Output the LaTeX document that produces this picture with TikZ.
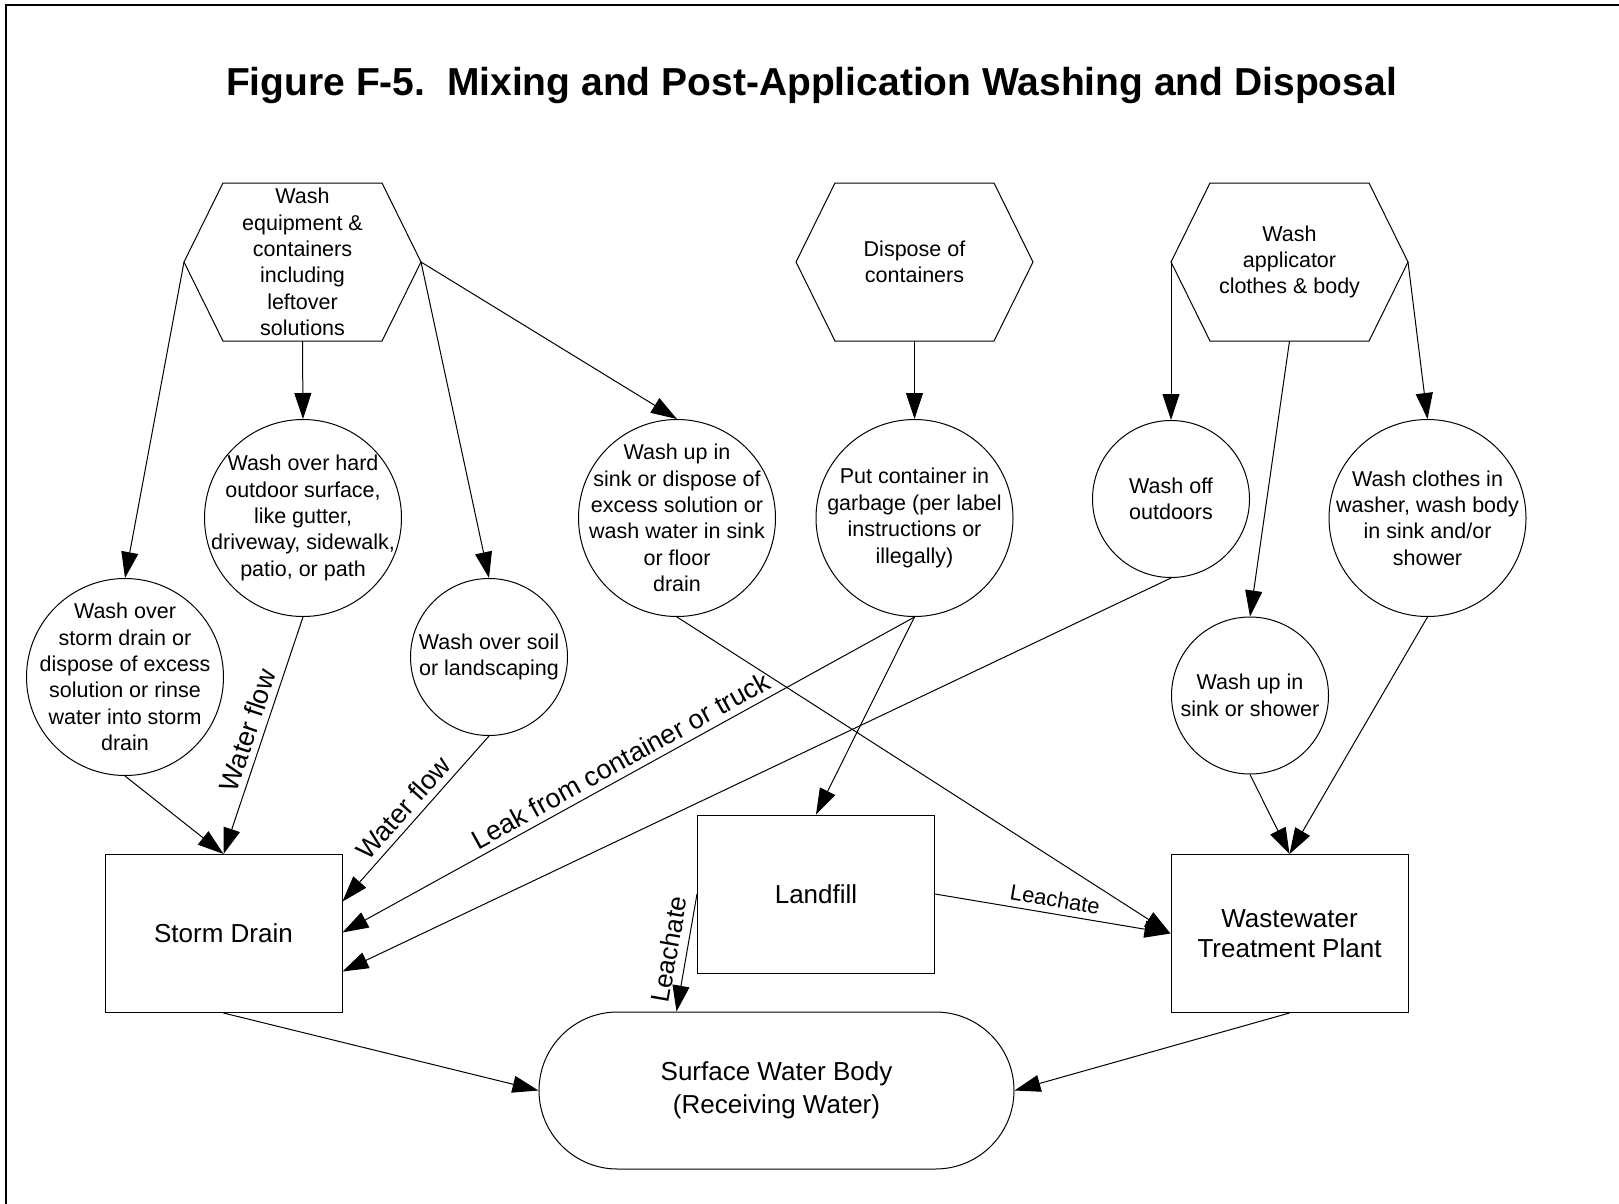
\documentclass[tikz,border=0pt]{standalone}
\usepackage{fontspec}
\setmainfont{Liberation Sans}
\usetikzlibrary{arrows.meta,shapes.misc}
\begin{document}
\begin{tikzpicture}[x=1pt,y=-1pt,line width=1pt,
  every node/.style={align=center, inner sep=0pt},
  txt/.style={font=\fontsize{21.5}{26.4}\selectfont},
  hexnode/.style={txt, minimum width=237pt, minimum height=158pt, outer sep=0pt},
  bigcirc/.style={circle, draw, minimum size=197pt},
  smallcirc/.style={circle, draw, minimum size=157pt},
  boxnode/.style={font=\fontsize{26}{30}\selectfont, draw, minimum width=237pt, minimum height=158pt},
  flowarrow/.style={-{Triangle[length=26pt,width=17pt]}},
  lbl/.style={font=\fontsize{27}{30}\selectfont, sloped, above, inner sep=6pt, midway},
  lblsmall/.style={font=\fontsize{22}{26}\selectfont, sloped, above, inner sep=6pt, midway},
  lblmid/.style={font=\fontsize{26}{30}\selectfont, sloped, above, inner sep=8pt, midway},
]
\useasboundingbox (0,0) rectangle (1619,1204);

% frame (top and left edges)
\draw[line width=2pt] (6,1204) -- (6,5) -- (1619,5);

% title
\node[font=\fontsize{39}{47}\selectfont\bfseries, anchor=base] (title) at (811.5,96)
  {Figure F-5.\ \ Mixing and Post-Application Washing and Disposal};

% top row: activities
\node[hexnode] (h1) at (302.5,262) {Wash\\equipment \&\\containers\\including\\leftover\\solutions};
\node[hexnode] (h2) at (914.5,262) {Dispose of\\containers};
\node[hexnode] (h3) at (1289.5,262) {Wash\\applicator\\clothes \& body};
\foreach \h in {h1,h2,h3}
  \draw ([xshift=39pt]\h.north west) -- ([xshift=-39pt]\h.north east) -- (\h.east)
     -- ([xshift=-39pt]\h.south east) -- ([xshift=39pt]\h.south west) -- (\h.west) -- cycle;

% middle row: practices (fixed-size circles, text set as a centred label)
\node[bigcirc, label={[txt]center:{Wash over\\storm drain or\\dispose of excess\\solution or rinse\\water into storm\\drain}}] (csd) at (125,677) {};
\node[bigcirc, label={[txt]center:{Wash over hard\\outdoor surface,\\like gutter,\\driveway, sidewalk,\\patio, or path}}] (chard) at (303,518) {};
\node[smallcirc, label={[txt]center:{Wash over soil\\or landscaping}}] (csoil) at (489,657) {};
\node[bigcirc, label={[txt]center:{Wash up in\\sink or dispose of\\excess solution or\\wash water in sink\\or floor\\drain}}] (csink) at (677,518) {};
\node[bigcirc, label={[txt]center:{Put container in\\garbage (per label\\instructions or\\illegally)}}] (cgarb) at (914.5,518) {};
\node[smallcirc, label={[txt]center:{Wash off\\outdoors}}] (cwoff) at (1171,499) {};
\node[bigcirc, label={[txt]center:{Wash clothes in\\washer, wash body\\in sink and/or\\shower}}] (cwash) at (1427.5,518) {};
\node[smallcirc, label={[txt]center:{Wash up in\\sink or shower}}] (cshow) at (1250,695.5) {};

% bottom row: destinations
\node[boxnode] (sd) at (223.5,933.5) {Storm Drain};
\node[boxnode] (lf) at (816,894) {Landfill};
\node[boxnode] (wwtp) at (1289.5,933.5) {Wastewater\\Treatment Plant};
\node[font=\fontsize{26}{33}\selectfont, rounded rectangle, draw, minimum width=475pt, minimum height=157pt] (swb) at (776.5,1090.5)
  {Surface Water Body\\(Receiving Water)};

% connectors from the activities
\draw[flowarrow] (h1.west) -- (csd.north);
\draw[flowarrow] (h1.south) -- (chard.north);
\draw[flowarrow] (h1.east) -- (csoil.north);
\draw[flowarrow] (h1.east) -- (csink.north);
\draw[flowarrow] (h2.south) -- (cgarb.north);
\draw[flowarrow] (h3.west) -- (cwoff.north);
\draw[flowarrow] (h3.south) -- (cshow.north);
\draw[flowarrow] (h3.east) -- (cwash.north);

% connectors to the destinations
\draw[flowarrow] (csd.south) -- (sd.north);
\draw[flowarrow] (chard.south) -- node[lbl] {Water flow} (sd.north);
\draw[flowarrow] (csoil.south) -- node[lbl] {Water flow} ([yshift=32pt]sd.east);
\draw[flowarrow] (cgarb.south) -- node[lbl] {Leak from container or truck} ([yshift=1pt]sd.east);
\draw[flowarrow] (cwoff.south) -- ([yshift=-38pt]sd.east);
\draw[flowarrow] (cgarb.south) -- (lf.north);
\draw[flowarrow] (csink.south) -- (wwtp.west);
\draw[flowarrow] (lf.east) -- node[lblsmall] {Leachate} (wwtp.west);
\draw[flowarrow] (lf.west) -- node[lblmid] {Leachate} ([xshift=-100pt]swb.north);
\draw[flowarrow] (cshow.south) -- (wwtp.north);
\draw[flowarrow] (cwash.south) -- (wwtp.north);
\draw[flowarrow] (sd.south) -- (swb.west);
\draw[flowarrow] (wwtp.south) -- (swb.east);
\end{tikzpicture}
\end{document}
